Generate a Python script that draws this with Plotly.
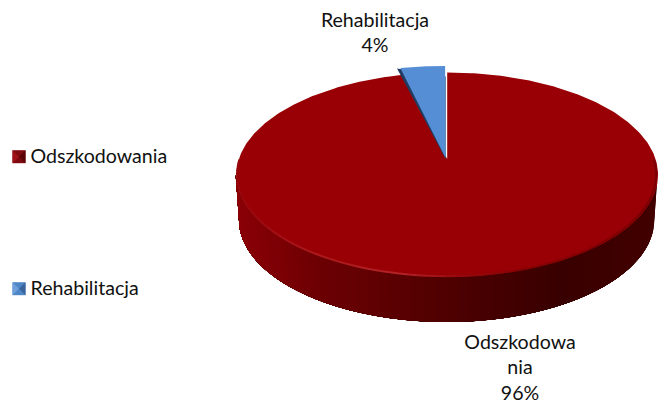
import numpy as np
import plotly.graph_objects as go

categories = ["Odszkodowania", "Rehabilitacja"]
values = [96, 4]
label_lines = [["Odszkodowa", "nia"], ["Rehabilitacja"]]

W, H = 658, 407
FONT = "Lato, Carlito, Calibri, sans-serif"
FS = 19.6
TXT = "#111111"
CX, CY = 446.6, 158.0
B, A, K = 208.0, 99.5, 0.1638
DEPTH = 45.0
RED = "#990005"
BLUE = "#558ED5"
NAVY = "#1F3D63"

fig = go.Figure()


def proj(theta, r=1.0, dx=0.0):
    u, v = r * np.sin(theta), r * np.cos(theta)
    d = 1 + K * v
    return CX + dx + B * u / d, CY - A * v / d


def poly(x, y, color, line=None, lw=0.0):
    fig.add_trace(go.Scatter(
        x=list(x), y=list(y), mode="lines", fill="toself", fillcolor=color,
        line=dict(color=line or color, width=lw), hoverinfo="skip", showlegend=False))


def mix(stops, t):
    pos = [s[0] for s in stops]
    ch = [np.interp(t, pos, [s[1][i] for s in stops]) for i in range(3)]
    return "rgb(%d,%d,%d)" % tuple(int(round(c)) for c in ch)


# side wall: each band runs to the far end so later bands cover it without seams
total = sum(values)
side_stops = [(236, (138, 0, 6)), (320, (108, 0, 3)), (450, (78, 0, 1)), (560, (56, 0, 0)), (657, (66, 0, 0))]
th_lim = np.arccos(-K)
th_end = 2 * np.pi - th_lim
edges = np.linspace(th_lim, th_end, 61)
for a, b in zip(edges[:-1], edges[1:]):
    ts = np.linspace(a, th_end, 120)
    x, y = proj(ts)
    xb = CX + (x - CX) * 0.985
    xs = list(x) + list(xb[::-1])
    ys = list(y) + list((y + DEPTH)[::-1])
    xm, _ = proj(np.array([(a + b) / 2]))
    poly(xs, ys, mix(side_stops, float(xm[0])))

# main face (first category): clockwise from the top
frac_small = values[1] / total
start = 0.0
end = 2 * np.pi * values[0] / total
ths = np.linspace(start, end, 360)
xf, yf = proj(ths)
poly(list(xf + 0.6) + [CX + 0.6, xf[0] + 0.6], list(yf) + [CY + 1, yf[0]], RED)

# rim highlight along the lower edge
rim_stops = [(236, (150, 5, 10)), (300, (170, 22, 27)), (400, (178, 36, 40)),
             (460, (150, 10, 14)), (520, (135, 2, 5)), (580, (130, 0, 4)), (657, (120, 0, 4))]
rim = np.linspace(th_lim - 0.15, th_end + 0.15, 81)
for a, b in zip(rim[:-1], rim[1:]):
    x, y = proj(np.linspace(a, b, 3), r=0.994)
    fig.add_trace(go.Scatter(x=x, y=y, mode="lines", hoverinfo="skip", showlegend=False,
                             line=dict(color=mix(rim_stops, float(x.mean())), width=2.0)))

# second category wedge: raised slightly
ang = 2 * np.pi * frac_small
ta = np.linspace(-ang, 0, 20)
xa, ya = proj(ta, r=1.09, dx=-1.5)
poly([xa[0], CX - 1, CX - 1, xa[0]], [ya[0], CY + 1, ya[0] + 8, ya[0]], NAVY)
xa2, ya2 = proj(np.linspace(-ang * 0.93, 0, 20), r=1.09, dx=-1.5)
poly(list(xa2) + [CX - 1, xa2[0]], list(ya2) + [CY, ya2[0]], BLUE)

# data labels
pcts = [f"{round(100 * v / total)}%" for v in values]
lab_x = [520, 375]
lab_y = [[344, 369, 395], [22, 47]]
for i in range(2):
    lines = label_lines[i] + [pcts[i]]
    fig.add_trace(go.Scatter(
        x=[lab_x[i]] * len(lines), y=lab_y[i], mode="text", text=lines, textposition="middle center",
        textfont=dict(family=FONT, size=FS, color=TXT), hoverinfo="skip", showlegend=False))

# legend
leg_y = [156.7, 288.7]
leg_txt_y = [158.5, 290.5]
leg_base = ["#7E0A10", "#4F86C6"]
leg_side = [("#A01218", "#5A0408"), ("#6E9FDA", "#3A659B")]
for i in range(2):
    s = 6.5
    xc, yc = 19.0, leg_y[i]
    poly([xc - s, xc + s, xc + s, xc - s, xc - s], [yc - s, yc - s, yc + s, yc + s, yc - s], leg_base[i])
    poly([xc - s, xc - s, xc, xc - s], [yc - s, yc + s, yc, yc - s], leg_side[i][0])
    poly([xc + s, xc + s, xc, xc + s], [yc - s, yc + s, yc, yc - s], leg_side[i][1])
    fig.add_trace(go.Scatter(
        x=[30.5], y=[leg_txt_y[i]], mode="text", text=[categories[i]], textposition="middle right",
        textfont=dict(family=FONT, size=FS, color=TXT), hoverinfo="skip", showlegend=False))

fig.update_layout(
    width=W, height=H, margin=dict(l=0, r=0, t=0, b=0),
    paper_bgcolor="white", plot_bgcolor="white", showlegend=False,
    xaxis=dict(range=[0, W], visible=False, fixedrange=True),
    yaxis=dict(range=[H, 0], visible=False, fixedrange=True),
)
fig.write_html("out.html", config=dict(displayModeBar=False),
               post_script="document.body.style.margin='0';document.documentElement.style.overflow='hidden';")
